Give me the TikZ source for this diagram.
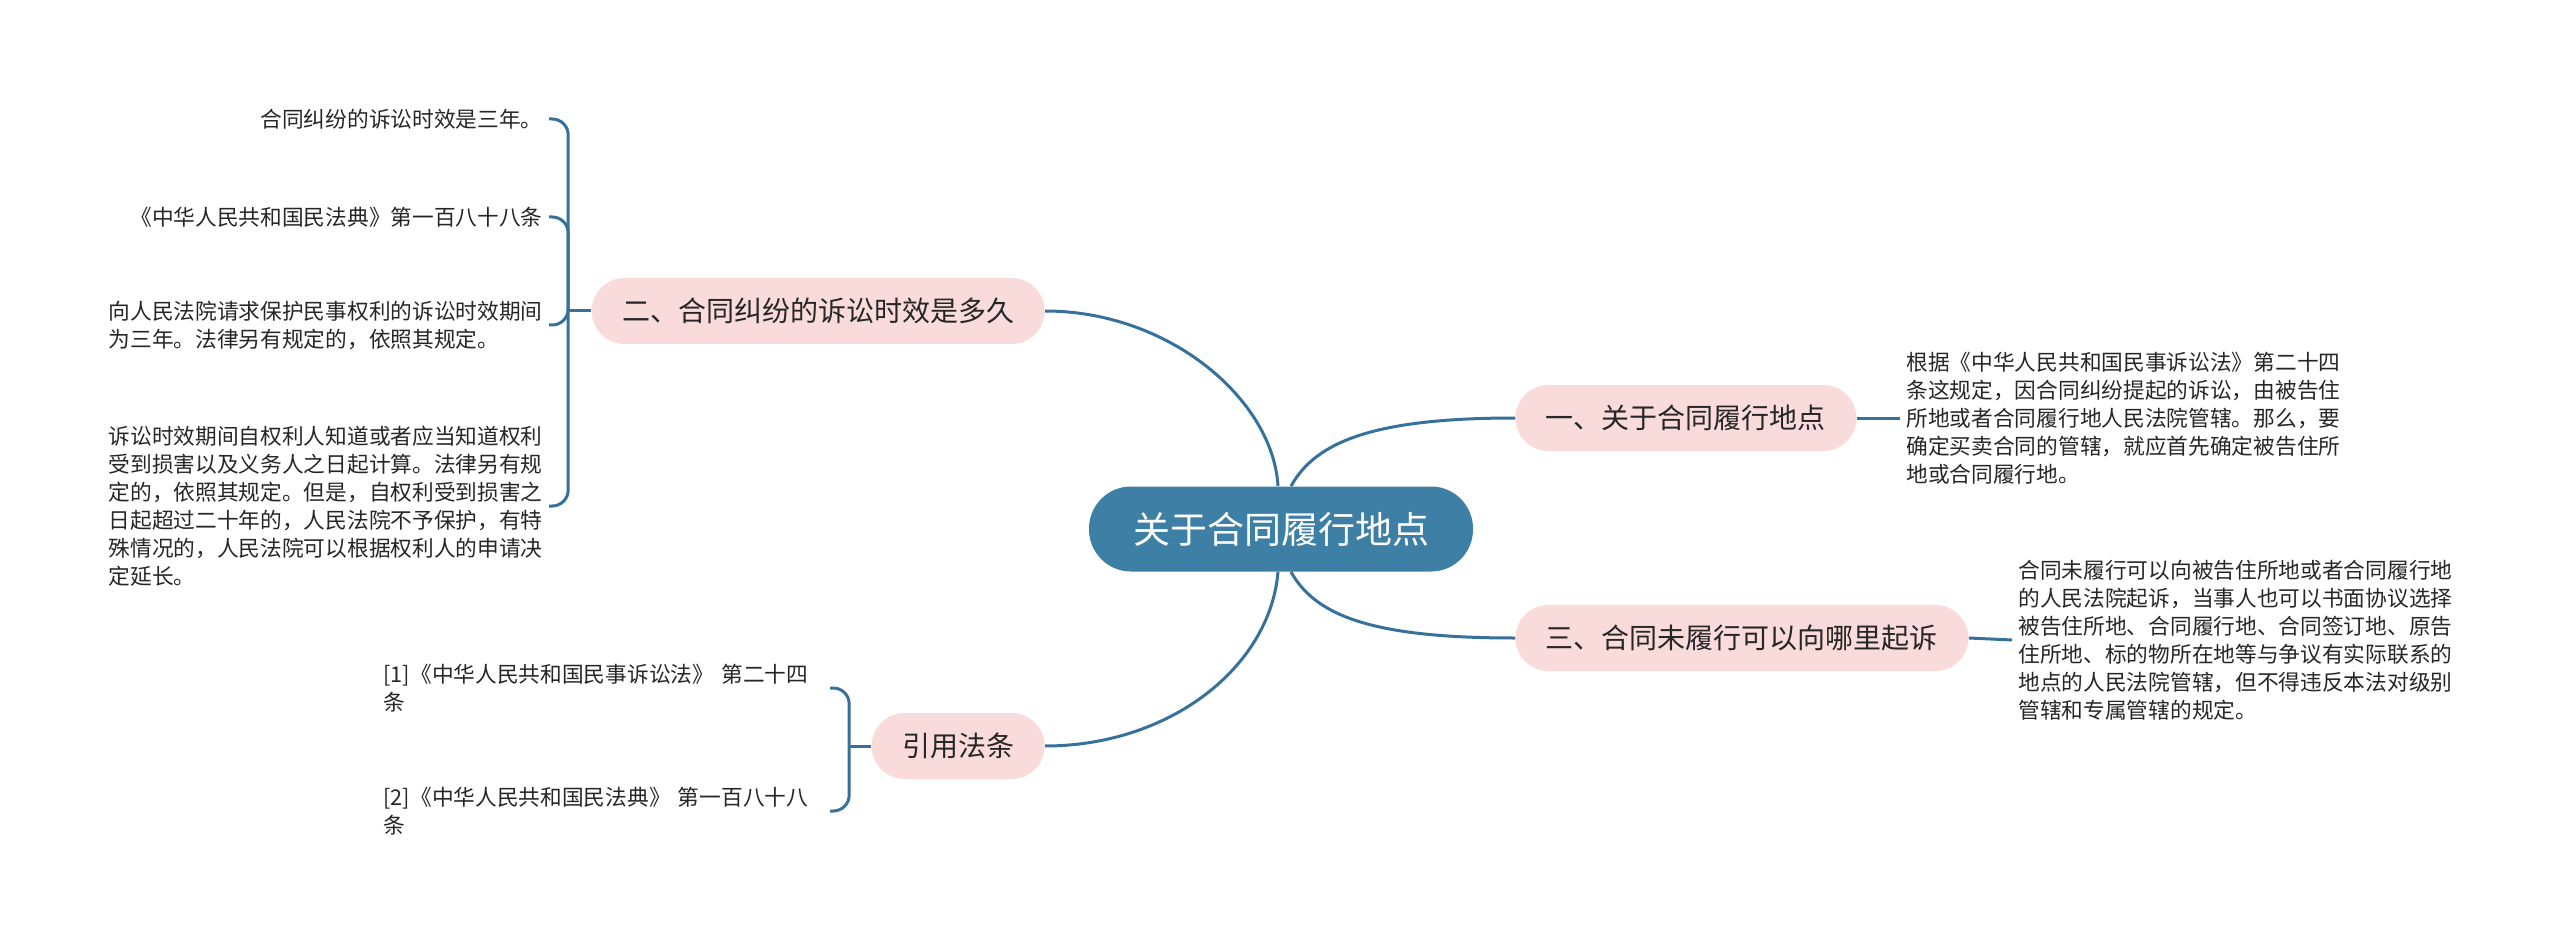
\documentclass[tikz,border=0pt]{standalone}
\usepackage{fontspec}
\setmainfont{Noto Sans CJK SC}
\usetikzlibrary{positioning}
\definecolor{rootfill}{HTML}{3E7FA6}
\definecolor{branch}{HTML}{36719B}
\definecolor{topicfill}{HTML}{FADBDB}
\definecolor{ink}{HTML}{262626}

\begin{document}
\begin{tikzpicture}[x=0.5pt,y=-0.5pt,
  root/.style={fill=rootfill,text=white,rounded corners=21pt,minimum width=192pt,minimum height=42.5pt,font=\fontsize{18.5pt}{22pt}\selectfont},
  topic/.style={fill=topicfill,text=ink,rounded corners=16.5pt,minimum height=33pt,inner xsep=15.25pt,font=\fontsize{14pt}{17pt}\selectfont},
  leaf/.style={text=ink,inner sep=3pt,align=left,font=\fontsize{10.85pt}{14pt}\selectfont},
  note/.style={leaf,text width=220pt},
  link/.style={branch,line width=1.5pt},
  brace/.style={branch,line width=1.5pt,rounded corners=8pt}]
\useasboundingbox (0,0) rectangle (2560,941);

\node[root] (root) at (1281,529) {关于合同履行地点};
\node[topic,anchor=west] (b1) at (1515,418) {一、关于合同履行地点};
\node[topic,anchor=east] (b2) at (1045,311) {二、合同纠纷的诉讼时效是多久};
\node[topic,anchor=west] (b3) at (1515,638) {三、合同未履行可以向哪里起诉};
\node[topic,anchor=east] (b4) at (1045,746) {引用法条};

\draw[link] ([xshift=-1.5pt]root.north) .. controls +(-5,-86) and +(125,0) .. (b2.east);
\draw[link] ([xshift=5pt]root.north) .. controls +(25,-45) and +(-140,0) .. (b1.west);
\draw[link] ([xshift=5pt]root.south) .. controls +(25,45) and +(-140,0) .. (b3.west);
\draw[link] ([xshift=-1.5pt]root.south) .. controls +(-8,95) and +(125,0) .. (b4.east);

% right side
\node[leaf,anchor=west] (t1) at (1900,418) {根据《中华人民共和国民事诉讼法》第二十四\\条这规定，因合同纠纷提起的诉讼，由被告住\\所地或者合同履行地人民法院管辖。那么，要\\确定买卖合同的管辖，就应首先确定被告住所\\地或合同履行地。};
\node[leaf,anchor=west] (t3) at (2012,640) {合同未履行可以向被告住所地或者合同履行地\\的人民法院起诉，当事人也可以书面协议选择\\被告住所地、合同履行地、合同签订地、原告\\住所地、标的物所在地等与争议有实际联系的\\地点的人民法院管辖，但不得违反本法对级别\\管辖和专属管辖的规定。};
\draw[link] (b1.east) -- (t1.west);
\draw[link] (b3.east) -- (t3.west);

% left side
\node[leaf,anchor=east] (c1) at (549,119) {合同纠纷的诉讼时效是三年。};
\node[leaf,anchor=east] (c2) at (549,217) {《中华人民共和国民法典》第一百八十八条};
\node[leaf,anchor=east] (c3) at (549,325) {向人民法院请求保护民事权利的诉讼时效期间\\为三年。法律另有规定的，依照其规定。};
\node[leaf,anchor=east] (c4) at (549,506) {诉讼时效期间自权利人知道或者应当知道权利\\受到损害以及义务人之日起计算。法律另有规\\定的，依照其规定。但是，自权利受到损害之\\日起超过二十年的，人民法院不予保护，有特\\殊情况的，人民法院可以根据权利人的申请决\\定延长。};
\coordinate (j2) at ([xshift=-11.5pt]b2.west);
\draw[link] (b2.west) -- (j2);
\foreach \c in {c1,c2,c3,c4} \draw[brace] (j2) |- (\c.east);

\node[note,anchor=east] (r1) at (830,688) {[1]《中华人民共和国民事诉讼法》~第二十四\\条};
\node[note,anchor=east] (r2) at (830,811) {[2]《中华人民共和国民法典》~第一百八十八\\条};
\coordinate (j4) at ([xshift=-11pt]b4.west);
\draw[link] (b4.west) -- (j4);
\foreach \r in {r1,r2} \draw[brace] (j4) |- (\r.east);
\end{tikzpicture}
\end{document}
